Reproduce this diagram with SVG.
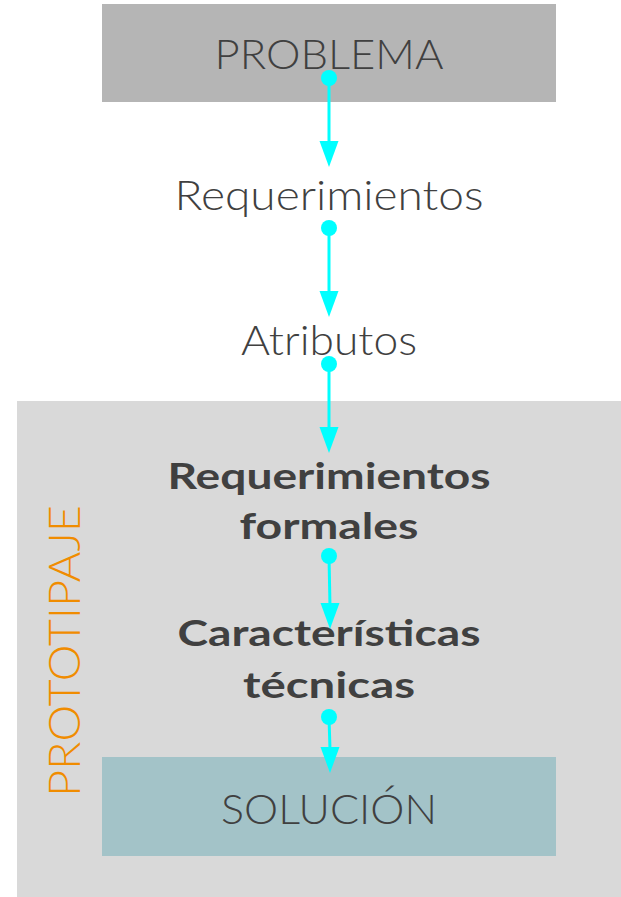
<svg xmlns="http://www.w3.org/2000/svg" width="621" height="897" viewBox="0 0 621 897">
<defs>
<style>
.t{font-family:Lato,"Open Sans","Liberation Sans",sans-serif;fill:#404040;text-anchor:middle}
.l{font-weight:300;font-size:42px}
.b{font-weight:700;font-size:36px}
.c{stroke:#00ffff;stroke-width:3;fill:none}
.d{fill:#00ffff}
</style>
</defs>
<rect width="621" height="897" fill="#ffffff"/>
<g id="prototipaje">
<rect x="17" y="401" width="604" height="496" fill="#d9d9d9"/>
<text class="t" transform="translate(80,651) rotate(-90)" style="fill:#f08c00;font-weight:300;font-size:44px" textLength="292" lengthAdjust="spacingAndGlyphs">PROTOTIPAJE</text>
</g>
<g id="problema">
<rect x="102" y="4" width="454" height="98" fill="#b5b5b5"/>
<text class="t l" x="329" y="69" textLength="229" lengthAdjust="spacingAndGlyphs">PROBLEMA</text>
</g>
<g id="requerimientos">
<text class="t l" x="329" y="210" textLength="309" lengthAdjust="spacingAndGlyphs">Requerimientos</text>
</g>
<g id="atributos">
<text class="t l" x="329" y="355" textLength="176" lengthAdjust="spacingAndGlyphs">Atributos</text>
</g>
<g id="requerimientos-formales">
<text class="t b" x="329" y="489" textLength="323" lengthAdjust="spacingAndGlyphs">Requerimientos</text>
<text class="t b" x="329" y="539" textLength="179" lengthAdjust="spacingAndGlyphs">formales</text>
</g>
<g id="caracteristicas-tecnicas">
<text class="t b" x="329" y="646" textLength="303" lengthAdjust="spacingAndGlyphs">Características</text>
<text class="t b" x="329" y="698" textLength="172" lengthAdjust="spacingAndGlyphs">técnicas</text>
</g>
<g id="solucion">
<rect x="102" y="757" width="454" height="99" fill="#a3c3c8"/>
<text class="t l" x="329" y="824" textLength="216" lengthAdjust="spacingAndGlyphs">SOLUCIÓN</text>
</g>
<g id="connectors">
<circle class="d" cx="329" cy="78" r="8"/><line class="c" x1="329" y1="78" x2="329" y2="145"/><polygon class="d" points="319.5,141 338.5,141 329,167"/>
<circle class="d" cx="329" cy="228" r="8"/><line class="c" x1="329" y1="228" x2="329" y2="295"/><polygon class="d" points="319.5,291 338.5,291 329,317"/>
<circle class="d" cx="329" cy="364" r="8"/><line class="c" x1="329" y1="364" x2="329" y2="431"/><polygon class="d" points="319.5,427 338.5,427 329,453"/>
<circle class="d" cx="329" cy="556" r="8"/><line class="c" x1="329" y1="556" x2="330" y2="607"/><polygon class="d" points="320.5,603 339.5,603 330,629"/>
<circle class="d" cx="329" cy="717" r="8"/><line class="c" x1="329" y1="717" x2="330" y2="750"/><polygon class="d" points="320.5,747 339.5,747 330,773"/>
</g>
</svg>
